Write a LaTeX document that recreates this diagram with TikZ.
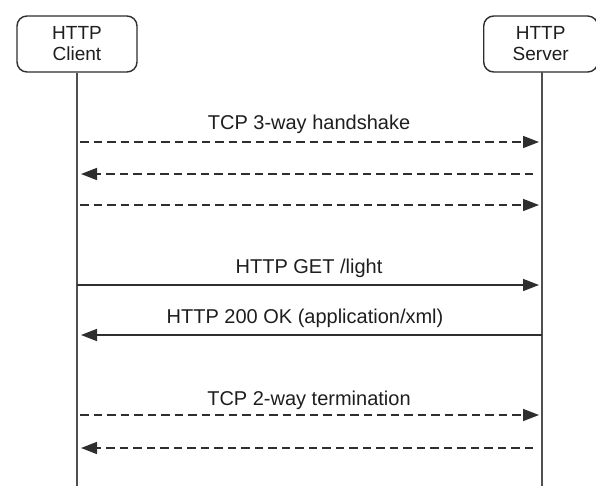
\documentclass[tikz,border=0pt]{standalone}
\usepackage{fontspec}
\setmainfont{Liberation Sans}
\usetikzlibrary{arrows.meta}
\definecolor{ink}{HTML}{1E1E1E}
\definecolor{wire}{HTML}{2E2E2E}
\definecolor{life}{HTML}{505050}
\begin{document}
\begin{tikzpicture}[x=1pt,y=-1pt,
  actor/.style={draw=wire,line width=1.4pt,rounded corners=10pt,fill=white,
    minimum width=120pt,minimum height=56pt,inner sep=0pt,align=center,
    text=ink,font=\fontsize{19}{21}\selectfont},
  lifeline/.style={draw=life,line width=1.9pt},
  msg/.style={draw=wire,line width=1.6pt,-{Triangle[length=16pt,width=12pt]},shorten >=3pt},
  msgdash/.style={msg,dash pattern=on 8.5pt off 5pt},
  lbl/.style={text=ink,font=\fontsize{20}{24}\selectfont,inner sep=0pt}]
  \useasboundingbox (0,0) rectangle (596,485);

  % participants
  \node[actor] (client) at (77,44) {HTTP\\Client};
  \node[actor,minimum width=114pt,anchor=west] (server) at (483,44) {HTTP\\Server};
  \coordinate (cbot) at (77,486);
  \coordinate (sbot) at (542,486);
  \coordinate (stop) at (542,72);
  \draw[lifeline] (client.south) -- (cbot);
  \draw[lifeline] (stop) -- (sbot);

  % anchor points on the lifelines
  \foreach \n/\y in {1/142,2/174,3/205,4/285,5/335,6/415,7/448}{
    \coordinate (c\n) at (77,\y);
    \coordinate (s\n) at (542,\y);
  }

  % TCP handshake
  \draw[msgdash,shorten <=3pt] (c1) -- (s1);
  \draw[msgdash,shorten <=9pt,shorten >=4pt] (s2) -- (c2);
  \draw[msgdash,shorten <=3pt] (c3) -- (s3);
  \node[lbl] (l1) at (309,124) {TCP 3-way handshake};

  % HTTP exchange
  \draw[msg] (c4) -- (s4);
  \node[lbl] (l2) at (309,268) {HTTP GET /light};
  \draw[msg,shorten >=4pt] (s5) -- (c5);
  \node[lbl] (l3) at (305,318) {HTTP 200 OK (application/xml)};

  % TCP termination
  \draw[msgdash,shorten <=3pt] (c6) -- (s6);
  \draw[msgdash,shorten <=9pt,shorten >=4pt] (s7) -- (c7);
  \node[lbl] (l4) at (309,400) {TCP 2-way termination};
\end{tikzpicture}
\end{document}
